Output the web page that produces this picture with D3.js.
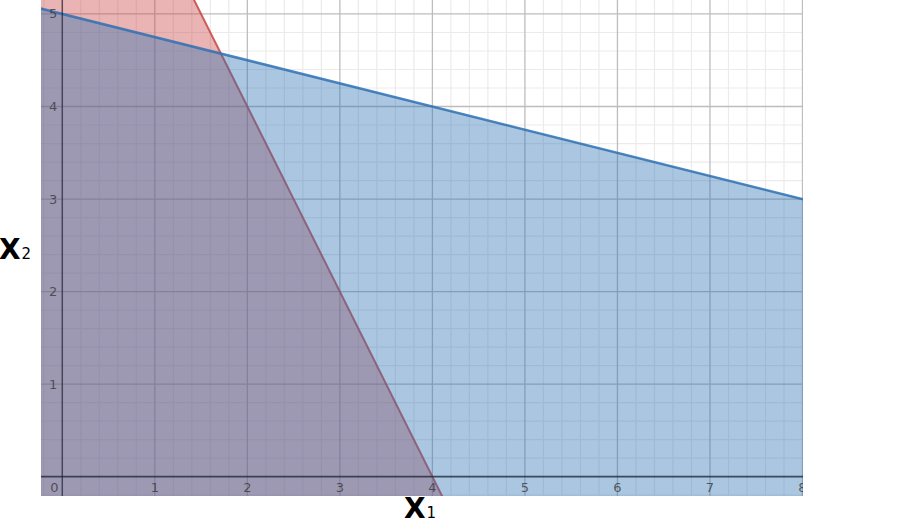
<!DOCTYPE html>
<html>
<head>
<meta charset="utf-8">
<script src="https://cdn.jsdelivr.net/npm/d3@7"></script>
<style>
  html, body { margin: 0; padding: 0; background: #fff; }
  svg { display: block; }
</style>
</head>
<body>
<svg id="chart" width="918" height="525"></svg>
<script>
// ---- data ----
const xTicks = [0, 1, 2, 3, 4, 5, 6, 7, 8];
const yTicks = [1, 2, 3, 4, 5];
// constraints a*x1 + b*x2 <= c
const constraintNames = ["blue", "red"];
const constraintA = [1, 2];
const constraintB = [4, 1];
const constraintC = [20, 8];
const constraintColors = ["#2d70b3", "#c74440"];
const xDomain = [-0.23, 8.0];
const yDomain = [-0.209, 5.151];

// ---- layout ----
const svg = d3.select("#chart");
const plot = { left: 41, right: 802.5, top: 0, bottom: 496 };
const x = d3.scaleLinear().domain(xDomain).range([plot.left, plot.right]);
const y = d3.scaleLinear().domain(yDomain).range([plot.bottom, plot.top]);

svg.append("defs").append("clipPath").attr("id", "clip")
  .append("rect").attr("x", plot.left).attr("y", plot.top)
  .attr("width", plot.right - plot.left + 0.5).attr("height", plot.bottom - plot.top);

const g = svg.append("g").attr("clip-path", "url(#clip)");

// grid
const minorX = d3.range(Math.ceil(xDomain[0] * 5), Math.floor(xDomain[1] * 5) + 1).map(d => d / 5);
const minorY = d3.range(Math.ceil(yDomain[0] * 5), Math.floor(yDomain[1] * 5) + 1).map(d => d / 5);
g.append("g").selectAll("line").data(minorX.filter(d => Math.abs(d - Math.round(d)) > 1e-9))
  .join("line").attr("x1", d => x(d)).attr("x2", d => x(d)).attr("y1", plot.top).attr("y2", plot.bottom)
  .attr("stroke", "#ebebeb").attr("stroke-width", 1.2);
g.append("g").selectAll("line").data(minorY.filter(d => Math.abs(d - Math.round(d)) > 1e-9))
  .join("line").attr("y1", d => y(d)).attr("y2", d => y(d)).attr("x1", plot.left).attr("x2", plot.right + 1)
  .attr("stroke", "#ebebeb").attr("stroke-width", 1.2);
g.append("g").selectAll("line").data(xTicks.filter(d => d !== 0))
  .join("line").attr("x1", d => x(d)).attr("x2", d => x(d)).attr("y1", plot.top).attr("y2", plot.bottom)
  .attr("stroke", "#bdbdbd").attr("stroke-width", 1.3);
g.append("g").selectAll("line").data(yTicks)
  .join("line").attr("y1", d => y(d)).attr("y2", d => y(d)).attr("x1", plot.left).attr("x2", plot.right + 1)
  .attr("stroke", "#bdbdbd").attr("stroke-width", 1.3);

// regions
function regionPoly(i) {
  const a = constraintA[i], b = constraintB[i], c = constraintC[i];
  const x0 = xDomain[0] - 0.05, x1 = xDomain[1] + 0.05;
  const yLo = yDomain[0] - 0.05, yHi = yDomain[1] + 0.05;
  const lineY = xx => (c - a * xx) / b;
  const pts = [];
  const n = 200;
  for (let k = 0; k <= n; k++) {
    const xx = x0 + (x1 - x0) * k / n;
    pts.push([xx, Math.min(yHi, Math.max(yLo, lineY(xx)))]);
  }
  pts.push([x1, yLo], [x0, yLo]);
  return pts;
}
function linePts(i) {
  const a = constraintA[i], b = constraintB[i], c = constraintC[i];
  const x0 = xDomain[0] - 0.05, x1 = xDomain[1] + 0.05;
  return [[x0, (c - a * x0) / b], [x1, (c - a * x1) / b]];
}
const area = d3.line().x(d => x(d[0])).y(d => y(d[1]));

// red first, then blue on top
const order = [1, 0];
order.forEach(i => {
  g.append("path").attr("d", area(regionPoly(i)) + "Z")
    .attr("fill", constraintColors[i]).attr("fill-opacity", 0.4);
  g.append("path").attr("d", area(linePts(i)))
    .attr("fill", "none").attr("stroke", constraintColors[i])
    .attr("stroke-width", i === 0 ? 2.5 : 2).attr("stroke-opacity", 0.85);
});

// axes
g.append("line").attr("x1", x(0)).attr("x2", x(0)).attr("y1", plot.top).attr("y2", plot.bottom)
  .attr("stroke", "#2a2a3a").attr("stroke-width", 1.5).attr("stroke-opacity", 0.75);
g.append("line").attr("y1", y(0)).attr("y2", y(0)).attr("x1", plot.left).attr("x2", plot.right + 1)
  .attr("stroke", "#1e2a3a").attr("stroke-width", 1.6).attr("stroke-opacity", 0.8);

// tick labels
const labels = g.append("g").attr("font-family", "'DejaVu Sans', sans-serif").attr("font-size", 13)
  .attr("fill", "#333").attr("fill-opacity", 0.75);
labels.selectAll("text.xl").data(xTicks).join("text")
  .attr("x", d => d === 0 ? x(0) - 8 : x(d)).attr("y", y(0) + 15)
  .attr("text-anchor", "middle").text(d => d);
labels.selectAll("text.yl").data(yTicks).join("text")
  .attr("x", x(0) - 5).attr("y", d => y(d) + 4.5)
  .attr("text-anchor", "end").text(d => d);

// axis titles
function title(xp, yp, main, sub) {
  const t = svg.append("text").attr("x", xp).attr("y", yp)
    .attr("font-family", "'DejaVu Sans', sans-serif").attr("fill", "#000");
  t.append("tspan").attr("font-size", 28).attr("font-weight", "bold").text(main);
  t.append("tspan").attr("font-size", 15).attr("dx", 1).text(sub);
}
title(-1, 259, "X", "2");
title(404, 518, "X", "1");
</script>
</body>
</html>
